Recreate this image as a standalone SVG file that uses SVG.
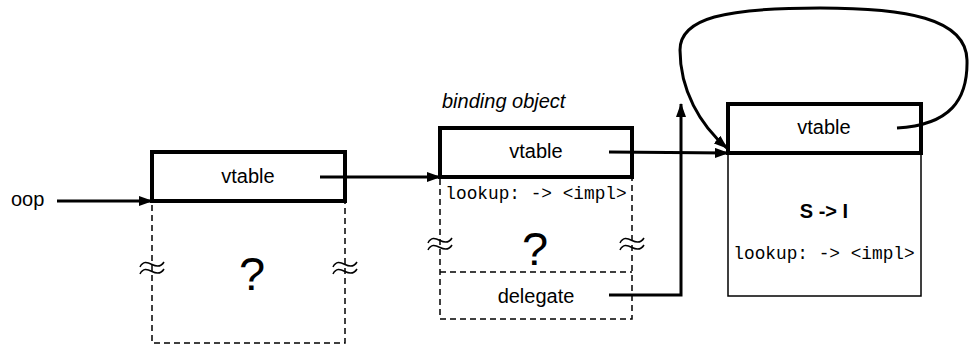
<svg xmlns="http://www.w3.org/2000/svg" width="969" height="346" viewBox="0 0 969 346">
<defs>
<marker id="ah" markerWidth="14" markerHeight="10" refX="13" refY="5" orient="auto" markerUnits="userSpaceOnUse">
<path d="M0,0 L14,5 L0,10 Z" fill="#000"/>
</marker>
<g id="sq">
<path d="M-12,-1 C-9,-7 -5,-6 0,-3.5 S9,-1 12,-6" fill="none" stroke="#000" stroke-width="1.5"/>
<path d="M-12,6 C-9,0 -5,1 0,3.5 S9,6 12,1" fill="none" stroke="#000" stroke-width="1.5"/>
</g>
</defs>
<style>
.vt{fill:#fff;stroke:#000;stroke-width:4}
.ds{fill:none;stroke:#000;stroke-width:1.5;stroke-dasharray:6 4}
.sol{fill:#fff;stroke:#000;stroke-width:1.5}
.t{font-family:"Liberation Sans",Arial,sans-serif;font-size:20px;text-anchor:middle;fill:#000}
.m{font-family:"Liberation Mono","Courier New",monospace;font-size:17.8px;text-anchor:middle;fill:#000}
.q{font-family:"Liberation Sans",Arial,sans-serif;font-size:47px;text-anchor:middle;fill:#000}
.c{fill:none;stroke:#000;stroke-width:3}
</style>
<g id="node1">
<rect class="ds" x="152" y="201" width="193" height="142"/>
<rect class="vt" x="152" y="152" width="193" height="49"/>
<text class="t" x="248" y="183">vtable</text>
<text class="q" x="252" y="290">?</text>
<use href="#sq" x="152" y="268"/>
<use href="#sq" x="345" y="268"/>
</g>
<g id="node2">
<text class="t" x="442" y="108" style="text-anchor:start;font-style:italic">binding object</text>
<rect class="ds" x="440" y="177" width="192" height="142"/>
<line class="ds" x1="440" y1="272" x2="632" y2="272"/>
<rect class="vt" x="440" y="128" width="192" height="49"/>
<text class="t" x="536" y="158">vtable</text>
<text class="m" x="536" y="199">lookup: -&gt; &lt;impl&gt;</text>
<text class="q" x="535" y="265">?</text>
<use href="#sq" x="440" y="244"/>
<use href="#sq" x="632" y="244"/>
<text class="t" x="536" y="303">delegate</text>
</g>
<g id="node3">
<rect class="sol" x="728" y="153" width="193" height="143"/>
<rect class="vt" x="728" y="104" width="193" height="49"/>
<text class="t" x="824" y="134">vtable</text>
<text class="t" x="824" y="218" style="font-weight:bold">S -&gt; I</text>
<text class="m" x="824" y="259">lookup: -&gt; &lt;impl&gt;</text>
</g>
<g id="oop">
<text class="t" x="11" y="206" style="text-anchor:start">oop</text>
</g>
<g id="connectors">
<line class="c" x1="57" y1="201" x2="152" y2="201" marker-end="url(#ah)"/>
<line class="c" x1="320" y1="177" x2="440" y2="177" marker-end="url(#ah)"/>
<line class="c" x1="609" y1="152" x2="728" y2="153" marker-end="url(#ah)"/>
<path class="c" d="M609,295 H681 V104" marker-end="url(#ah)"/>
<path class="c" d="M897,128 C950,125 968,100 967,60 C966,18 905,8 820,8 C725,8 680,18 680,50 C680,90 700,125 727,148" marker-end="url(#ah)"/>
</g>
</svg>
